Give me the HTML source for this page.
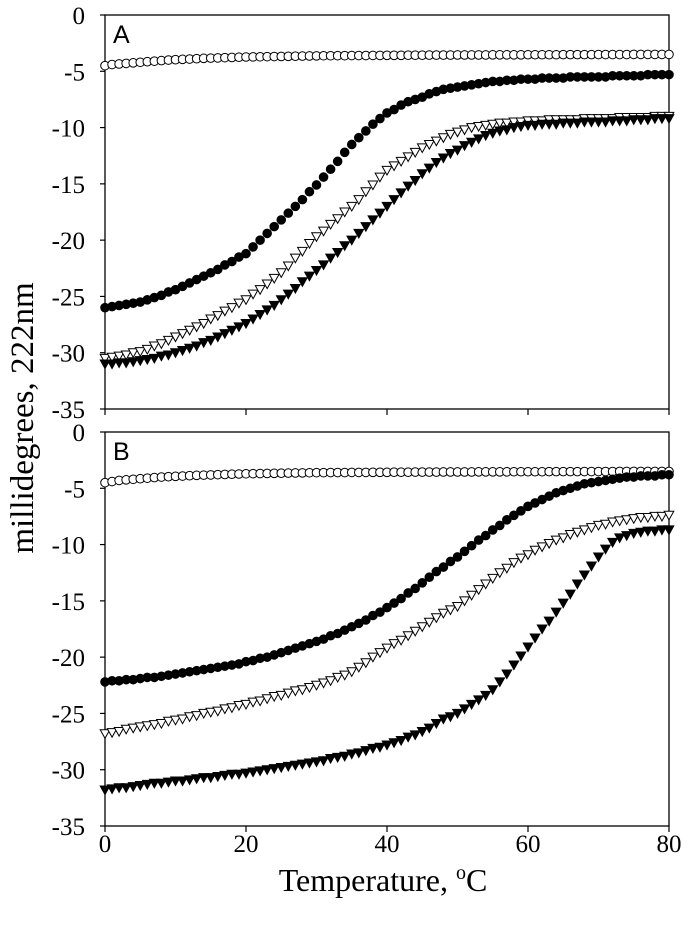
<!DOCTYPE html>
<html><head><meta charset="utf-8"><style>
html,body{margin:0;padding:0;background:#fff;}
svg{display:block;font-family:"Liberation Serif",serif;}
</style></head><body>
<svg id="chart" width="689" height="927" viewBox="0 0 689 927"></svg>
<script>
const temps = Array.from({length:81},(_,i)=>i);
const yTicks = [0,-5,-10,-15,-20,-25,-30,-35];
const xTicks = [0,20,40,60,80];
const aOpenCircle = [-4.5,-4.4,-4.35,-4.3,-4.25,-4.2,-4.15,-4.1,-4.05,-4.0,
-3.97,-3.94,-3.91,-3.88,-3.85,-3.83,-3.81,-3.79,-3.77,-3.75,
-3.73,-3.72,-3.71,-3.7,-3.69,-3.68,-3.67,-3.66,-3.65,-3.64,
-3.63,-3.62,-3.62,-3.61,-3.61,-3.6,-3.6,-3.6,-3.59,-3.59,
-3.58,-3.58,-3.58,-3.57,-3.57,-3.57,-3.56,-3.56,-3.56,-3.56,
-3.55,-3.55,-3.55,-3.55,-3.55,-3.54,-3.54,-3.54,-3.54,-3.54,
-3.53,-3.53,-3.53,-3.53,-3.53,-3.52,-3.52,-3.52,-3.52,-3.52,
-3.51,-3.51,-3.51,-3.51,-3.51,-3.5,-3.5,-3.5,-3.5,-3.5,-3.5];
const aFilledCircle = [-26.0,-25.9,-25.8,-25.7,-25.6,-25.5,-25.3,-25.1,-24.9,-24.6,
-24.4,-24.1,-23.8,-23.5,-23.2,-22.9,-22.6,-22.2,-21.9,-21.5,
-21.2,-20.6,-20.0,-19.4,-18.8,-18.2,-17.6,-17.0,-16.4,-15.7,
-15.1,-14.4,-13.7,-13.0,-12.2,-11.5,-10.9,-10.3,-9.7,-9.2,
-8.7,-8.4,-8.0,-7.7,-7.5,-7.3,-7.0,-6.8,-6.6,-6.5,
-6.4,-6.3,-6.2,-6.1,-6.0,-5.9,-5.9,-5.8,-5.8,-5.7,
-5.7,-5.7,-5.6,-5.6,-5.6,-5.6,-5.5,-5.5,-5.5,-5.5,
-5.5,-5.5,-5.4,-5.4,-5.4,-5.4,-5.4,-5.3,-5.3,-5.3,-5.3];
const aOpenTri = [-30.5,-30.4,-30.3,-30.2,-30.0,-29.9,-29.7,-29.4,-29.2,-28.9,
-28.6,-28.3,-28.0,-27.7,-27.4,-27.0,-26.7,-26.3,-26.0,-25.6,
-25.3,-24.8,-24.4,-23.9,-23.4,-22.9,-22.3,-21.6,-21.0,-20.3,
-19.7,-19.2,-18.6,-18.1,-17.5,-17.0,-16.4,-15.7,-15.1,-14.4,
-13.8,-13.4,-13.0,-12.6,-12.2,-11.8,-11.5,-11.2,-10.9,-10.6,
-10.4,-10.2,-10.0,-9.9,-9.8,-9.7,-9.6,-9.6,-9.5,-9.5,
-9.4,-9.4,-9.4,-9.3,-9.3,-9.3,-9.3,-9.3,-9.2,-9.2,
-9.2,-9.2,-9.2,-9.1,-9.1,-9.1,-9.1,-9.1,-9.0,-9.0,-9.0];
const aFilledTri = [-31.0,-31.0,-30.9,-30.9,-30.8,-30.7,-30.6,-30.5,-30.3,-30.2,
-30.0,-29.8,-29.6,-29.4,-29.1,-28.9,-28.6,-28.3,-28.0,-27.7,
-27.4,-27.0,-26.6,-26.2,-25.8,-25.3,-24.8,-24.3,-23.7,-23.2,
-22.7,-22.2,-21.6,-21.1,-20.5,-20.0,-19.4,-18.8,-18.2,-17.6,
-17.0,-16.4,-15.8,-15.2,-14.7,-14.1,-13.6,-13.1,-12.7,-12.3,
-12.0,-11.6,-11.3,-11.0,-10.7,-10.5,-10.3,-10.2,-10.0,-9.9,
-9.8,-9.8,-9.7,-9.7,-9.7,-9.6,-9.6,-9.6,-9.5,-9.5,
-9.5,-9.5,-9.4,-9.4,-9.4,-9.3,-9.3,-9.3,-9.2,-9.2,-9.2];
const bOpenCircle = [-4.5,-4.4,-4.3,-4.25,-4.2,-4.15,-4.1,-4.05,-4.0,-3.97,
-3.94,-3.91,-3.88,-3.85,-3.83,-3.81,-3.79,-3.77,-3.75,-3.73,
-3.71,-3.7,-3.69,-3.68,-3.67,-3.66,-3.65,-3.64,-3.63,-3.62,
-3.61,-3.61,-3.6,-3.6,-3.6,-3.59,-3.59,-3.59,-3.58,-3.58,
-3.58,-3.57,-3.57,-3.57,-3.56,-3.56,-3.56,-3.56,-3.55,-3.55,
-3.55,-3.55,-3.55,-3.54,-3.54,-3.54,-3.54,-3.54,-3.53,-3.53,
-3.53,-3.53,-3.53,-3.52,-3.52,-3.52,-3.52,-3.52,-3.51,-3.51,
-3.51,-3.51,-3.51,-3.5,-3.5,-3.5,-3.5,-3.5,-3.5,-3.5,-3.5];
const bFilledCircle = [-22.2,-22.1,-22.1,-22.0,-22.0,-21.9,-21.8,-21.8,-21.7,-21.6,
-21.5,-21.4,-21.3,-21.2,-21.1,-21.0,-20.9,-20.8,-20.7,-20.6,
-20.4,-20.3,-20.1,-20.0,-19.8,-19.6,-19.4,-19.2,-19.0,-18.8,
-18.6,-18.4,-18.1,-17.9,-17.6,-17.3,-17.0,-16.7,-16.3,-16.0,
-15.6,-15.2,-14.8,-14.3,-13.9,-13.4,-12.9,-12.4,-12.0,-11.5,
-11.1,-10.6,-10.1,-9.6,-9.2,-8.7,-8.3,-7.8,-7.4,-7.0,
-6.6,-6.3,-6.0,-5.7,-5.4,-5.2,-5.0,-4.8,-4.6,-4.5,
-4.4,-4.3,-4.2,-4.1,-4.0,-4.0,-3.9,-3.9,-3.9,-3.8,-3.8];
const bOpenTri = [-26.8,-26.7,-26.6,-26.4,-26.3,-26.2,-26.1,-26.0,-25.9,-25.7,
-25.6,-25.5,-25.3,-25.2,-25.0,-24.9,-24.8,-24.6,-24.5,-24.3,
-24.2,-24.0,-23.9,-23.7,-23.5,-23.4,-23.2,-23.0,-22.9,-22.7,
-22.5,-22.3,-22.1,-21.8,-21.6,-21.3,-20.9,-20.5,-20.0,-19.6,
-19.2,-18.8,-18.5,-18.1,-17.7,-17.3,-16.9,-16.5,-16.1,-15.8,
-15.5,-15.0,-14.5,-14.0,-13.5,-13.0,-12.5,-12.1,-11.6,-11.2,
-10.9,-10.5,-10.2,-9.9,-9.6,-9.4,-9.1,-8.9,-8.7,-8.5,
-8.3,-8.2,-8.0,-7.9,-7.8,-7.7,-7.6,-7.6,-7.5,-7.5,-7.4];
const bFilledTri = [-31.8,-31.7,-31.6,-31.6,-31.5,-31.4,-31.3,-31.2,-31.2,-31.1,
-31.0,-31.0,-30.9,-30.8,-30.7,-30.7,-30.6,-30.5,-30.4,-30.4,
-30.3,-30.2,-30.1,-30.0,-29.9,-29.8,-29.7,-29.6,-29.5,-29.4,
-29.3,-29.2,-29.0,-28.9,-28.8,-28.6,-28.5,-28.3,-28.1,-28.0,
-27.8,-27.6,-27.4,-27.1,-26.9,-26.6,-26.3,-25.9,-25.5,-25.3,
-25.0,-24.6,-24.2,-23.8,-23.4,-22.9,-22.2,-21.5,-20.7,-19.9,
-19.1,-18.3,-17.5,-16.8,-16.0,-15.2,-14.4,-13.5,-12.7,-11.9,
-11.1,-10.4,-9.8,-9.4,-9.2,-9.0,-8.9,-8.8,-8.8,-8.7,-8.7];

const NS='http://www.w3.org/2000/svg';
const svg=document.getElementById('chart');
function mk(tag,attrs,parent){const e=document.createElementNS(NS,tag);for(const k in attrs)e.setAttribute(k,attrs[k]);(parent||svg).appendChild(e);return e;}
const X0=105,X1=669;
const xs=t=>X0+(t-0)/80*(X1-X0);

function panel(name,top,bottom,letter,series,showX){
  const g=mk('g',{});
  
  
  const ys=v=>top+(0-v)/35*(bottom-top);
  const frame=mk('rect',{x:X0,y:top,width:X1-X0,height:bottom-top,fill:'none',stroke:'#000','stroke-width':1.3},g);
  
  
  yTicks.forEach(v=>{
    const l=mk('line',{x1:X0-5,x2:X0,y1:ys(v),y2:ys(v),stroke:'#000','stroke-width':1.2},g);
    
    
    const t=mk('text',{x:X0-20,y:ys(v)+9,'text-anchor':'end','font-size':25},g);
    t.textContent=v;
    
    
  });
  xTicks.forEach(v=>{
    const l=mk('line',{x1:xs(v),x2:xs(v),y1:bottom,y2:bottom+6,stroke:'#000','stroke-width':1.2},g);
    
    
    if(showX){
      const t=mk('text',{x:xs(v),y:bottom+26,'text-anchor':'middle','font-size':25},g);
      t.textContent=v;
      
      
    }
  });
  const lt=mk('text',{x:X0+8,y:top+28,'font-size':25,'font-family':'Liberation Sans, sans-serif'},g);
  lt.textContent=letter;
  
  
  series.forEach(([vals,shape,fill,sname])=>{
    const sg=mk('g',{},g);
    
    
    vals.forEach((v,i)=>{
      const cx=xs(temps[i]),cy=ys(v);let m;
      if(shape==='c'){m=mk('circle',{cx:cx,cy:cy,r:4.3,fill:fill,stroke:'#000','stroke-width':1},sg);}
      else{m=mk('path',{d:`M${cx-4.8},${cy-4} L${cx+4.8},${cy-4} L${cx},${cy+4.6} Z`,fill:fill,stroke:'#000','stroke-width':1},sg);}
      
      
    });
  });
}
panel('panel-a',15,409,'A',[[aOpenCircle,'c','#fff','series-open-circle'],[aFilledCircle,'c','#000','series-filled-circle'],[aOpenTri,'t','#fff','series-open-triangle'],[aFilledTri,'t','#000','series-filled-triangle']],false);
panel('panel-b',432,826,'B',[[bOpenCircle,'c','#fff','series-open-circle'],[bFilledCircle,'c','#000','series-filled-circle'],[bOpenTri,'t','#fff','series-open-triangle'],[bFilledTri,'t','#000','series-filled-triangle']],true);

const yt=mk('text',{x:0,y:0,'text-anchor':'middle','font-size':33,transform:'translate(33,418) rotate(-90)'});
yt.textContent='millidegrees, 222nm';


const xt=mk('text',{x:383,y:891,'text-anchor':'middle','font-size':32});
xt.innerHTML='Temperature, <tspan dy="-12" font-size="20">o</tspan><tspan dy="12">C</tspan>';


</script>
</body></html>
